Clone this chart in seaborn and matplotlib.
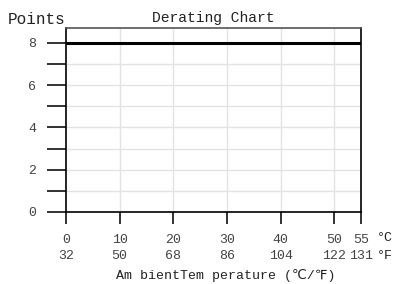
import matplotlib
matplotlib.use("Agg")
import matplotlib.pyplot as plt
import seaborn as sns
import pandas as pd
from matplotlib.ticker import MultipleLocator

temps_c = [0, 55]
points = [8, 8]
tick_c = [0, 10, 20, 30, 40, 50, 55]
tick_f = [32, 50, 68, 86, 104, 122, 131]
y_ticks = [0, 2, 4, 6, 8]

sns.set_theme(style="white")
plt.rcParams['font.family'] = ['Liberation Mono', 'DejaVu Sans']

fig = plt.figure(figsize=(3.93, 2.84), dpi=100)
ax = fig.add_axes([66/393, 1-212/284, (361-66)/393, (212-28)/284])

df = pd.DataFrame({"t": temps_c, "p": points})
sns.lineplot(data=df, x="t", y="p", ax=ax, color="black", linewidth=2.2)

ax.set_xlim(0, 55)
ax.set_ylim(0, 8.7)

# grid
for yv in range(1, 9):
    ax.axhline(yv, color="#e3e3e3", linewidth=1, zorder=0)
for xv in [10, 20, 30, 40, 50]:
    ax.axvline(xv, color="#e3e3e3", linewidth=1, zorder=0)

ax.set_xticks(tick_c)
labels = [f"{c}\n{f}" for c, f in zip(tick_c, tick_f)]
ax.set_xticklabels(labels, fontsize=9.5, color="#444444", linespacing=1.55)
for lbl in ax.get_xticklabels()[-1:]:
    lbl.set_x(55.6)
ax.set_yticks(y_ticks)
ax.set_yticklabels([str(v) for v in y_ticks], fontsize=9.5, color="#444444")
ax.yaxis.set_minor_locator(MultipleLocator(1))

ax.tick_params(axis="y", which="both", direction="out", length=13.5, width=1.3,
               color="#222222", pad=8, left=True)
ax.tick_params(axis="x", which="major", direction="out", length=8.5, width=1.3,
               color="#222222", pad=7, bottom=True)

for side in ["left", "bottom", "right"]:
    ax.spines[side].set_color("black")
    ax.spines[side].set_linewidth(1.2)
ax.spines["top"].set_color("#555555")
ax.spines["top"].set_linewidth(1.2)

ax.set_xlabel("Am bientTem perature (℃/℉)", fontsize=9.5, color="#222222", labelpad=3)
ax.xaxis.set_label_coords(0.54, -0.31)
ax.set_ylabel("")
ax.set_title("Derating Chart", fontsize=10.5, color="#222222", pad=4)

fig.text(8/393, 1-20/284, "Points", fontsize=11.5, color="#222222", va="center", ha="left")
fig.text(377/393, 1-238/284, "°C", fontsize=9.5, color="#222222", va="center", ha="left")
fig.text(377/393, 1-256/284, "°F", fontsize=9.5, color="#222222", va="center", ha="left")

fig.savefig("out.png", dpi=100)
